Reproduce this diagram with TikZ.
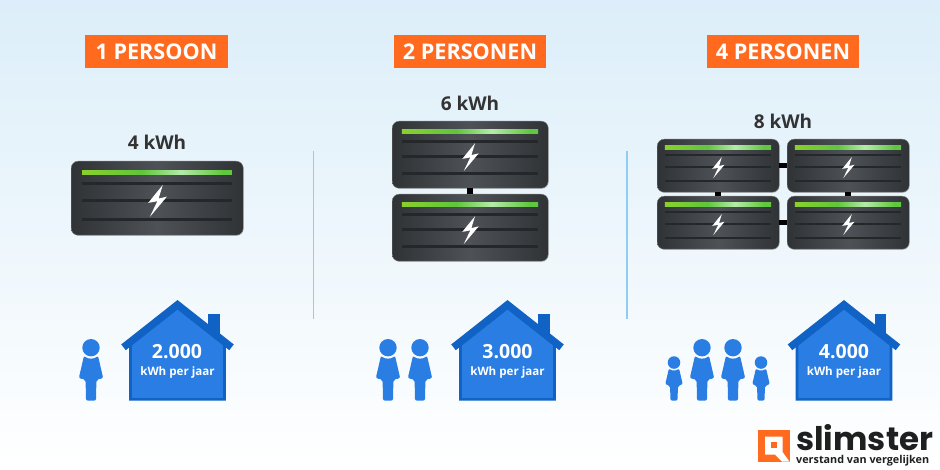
\documentclass[tikz,border=0pt]{standalone}
\usepackage{fontspec}
\setmainfont{Open Sans}
\newfontfamily\logofont{Poppins}
\usetikzlibrary{calc, shadows}

\definecolor{skytop}{HTML}{DCEEF9}
\definecolor{orangebox}{HTML}{FF6A1F}
\definecolor{textdark}{HTML}{333333}
\definecolor{houseblue}{HTML}{2A7DE3}
\definecolor{housedark}{HTML}{1063C4}
\definecolor{sepline}{HTML}{8FCDF2}
\definecolor{batline}{HTML}{25282B}
\definecolor{batedge}{HTML}{303336}
\definecolor{batmid}{HTML}{4E5155}
\definecolor{barleft}{HTML}{8AD02C}
\definecolor{barmain}{HTML}{5FC63C}
\definecolor{barglow}{HTML}{B5EBA8}
\definecolor{barright}{HTML}{6FE070}

\pgfdeclarehorizontalshading{batshade}{100bp}{color(0bp)=(batedge); color(25bp)=(batedge); color(50bp)=(batmid); color(75bp)=(batedge); color(100bp)=(batedge)}
\pgfdeclarehorizontalshading{barshade}{100bp}{color(0bp)=(barleft); color(25bp)=(barleft); color(45bp)=(barmain); color(58bp)=(barglow); color(72bp)=(barmain); color(100bp)=(barright)}

\tikzset{
  title/.style={fill=orangebox, text=white, font=\fontsize{21.6}{24}\bfseries, minimum height=33pt, inner sep=0pt},
  kwh/.style={text=textdark, font=\fontsize{19}{22}\bfseries, inner sep=0pt},
  amount/.style={text=white, font=\fontsize{19.5}{22}\bfseries, inner sep=0pt},
  peryear/.style={text=white, font=\fontsize{11.6}{13}\bfseries, inner sep=0pt},
  batterybox/.style={rounded corners=7pt, shading=batshade, draw=black!55, line width=.4pt, inner sep=0pt, drop shadow={shadow xshift=.6pt, shadow yshift=-.8pt, opacity=.25}},
  link/.style={line width=5pt, black},
  pics/person/.style={code={
    \fill[houseblue] (0,-53) circle (8.7);
    \fill[houseblue, rounded corners=2pt] (-7,-45) .. controls (-3,-41.5) and (3,-41.5) .. (7,-45)
      -- (12.2,-22.5) -- (5.4,-21) -- (5,0) -- (-5,0) -- (-5.4,-21) -- (-12.2,-22.5) -- cycle;
  }},
  pics/house/.style={code={
    \fill[housedark] (30.5,-87) rectangle (42,-55);
    \draw[housedark, fill=houseblue, line width=2.6pt] (-47,-1.3) -- (47,-1.3) -- (47,-56) -- (0,-93) -- (-47,-56) -- cycle;
    \draw[housedark, line width=7.3pt, miter limit=10] (-54,-53.4) -- (0,-96) -- (54,-53.4);
  }},
}

% name, left, top, width, height, bolt size
\newcommand{\battery}[6]{
  \node[batterybox, minimum width=#4pt, minimum height=#5pt, anchor=north west] (#1) at (#2,#3) {};
  \begin{scope}[shift={(#2,#3)}, x=#4pt, y=-#5pt]
    \fill[shading=barshade] (.064,.131) rectangle (.936,.189);
    \fill[batline] (.064,.29) rectangle (.936,.33);
    \fill[batline] (.064,.51) rectangle (.936,.55);
    \fill[batline] (.064,.765) rectangle (.936,.805);
  \end{scope}
  \begin{scope}[shift={($(#2,#3)+(.5*#4,.54*#5)$)}, x=#6pt, y=-#6pt]
    \fill[white] (.36,-1) -- (-.55,.12) -- (.02,.02) -- (-.45,1) -- (.62,-.27) -- (.1,-.15) -- cycle;
  \end{scope}
}

\begin{document}
\begin{tikzpicture}[x=1pt, y=-1pt]
  \useasboundingbox (0,0) rectangle (940,470);
  \shade[top color=skytop, bottom color=white] (0,0) rectangle (940,470);

  % titles
  \node[title, minimum width=143pt] (title1) at (156.5,51.5) {1 PERSOON};
  \node[title, minimum width=152pt] (title2) at (470,51.5) {2 PERSONEN};
  \node[title, minimum width=152pt] (title4) at (783,51.5) {4 PERSONEN};

  \node[kwh] (kwh1) at (157,142) {4 kWh};
  \node[kwh] (kwh2) at (470,103) {6 kWh};
  \node[kwh] (kwh4) at (783,121) {8 kWh};

  % separators
  \coordinate (sepa) at (313.5,151);
  \coordinate (sepb) at (313.5,319);
  \coordinate (sepc) at (627,151);
  \coordinate (sepd) at (627,319);
  \draw[sepline, line width=1.2pt] (sepa) -- (sepb);
  \draw[sepline, line width=1.2pt] (sepc) -- (sepd);

  % batteries
  \battery{bat1}{71}{161}{172}{74}{16}
  \battery{bat2a}{392}{121}{156}{67}{14}
  \battery{bat2b}{392}{194}{156}{67}{14}
  \battery{bat4a}{657}{139}{122}{53}{10.5}
  \battery{bat4b}{787}{139}{122}{53}{10.5}
  \battery{bat4c}{657}{196}{122}{53}{10.5}
  \battery{bat4d}{787}{196}{122}{53}{10.5}
  \draw[link, line width=6pt] (bat2a) -- (bat2b);
  \draw[link] (bat4a) -- (bat4b);
  \draw[link] (bat4c) -- (bat4d);
  \draw[link, line width=6pt] (bat4a) -- (bat4c);
  \draw[link, line width=6pt] (bat4b) -- (bat4d);

  % people
  \pic at (91,400.7) {person};
  \pic at (388,400.7) {person};
  \pic at (420,400.7) {person};
  \pic[scale=.72] at (674,400.7) {person};
  \pic at (702,400.7) {person};
  \pic at (733,400.7) {person};
  \pic[scale=.72] at (761,400.7) {person};

  % houses
  \pic at (177.5,400.7) {house};
  \pic at (507.5,400.7) {house};
  \pic at (844,400.7) {house};
  \node[amount] (use1) at (177,352) {2.000};
  \node[peryear] (year1) at (177.5,372) {kWh per jaar};
  \node[amount] (use2) at (507.5,352) {3.000};
  \node[peryear] (year2) at (507.5,372) {kWh per jaar};
  \node[amount] (use4) at (844,352) {4.000};
  \node[peryear] (year4) at (844,372) {kWh per jaar};

  % logo
  \fill[orangebox] (758,430) rectangle (789.5,461.7);
  \fill[white] (765,436.5) -- (782.5,436.5) -- (782.5,452) -- (789.5,461.7) -- (782,461.7) -- (775,454.5) -- (765,454.5) -- cycle;
  \fill[orangebox] (770.7,442.3) rectangle (776.7,448.3);
  \node[anchor=base west, inner sep=0pt, text=black!88, font=\logofont\fontsize{32.5}{36}\bfseries] (logo) at (796,450) {slimster};
  \node[anchor=base west, inner sep=0pt, text=black!88, font=\fontsize{10.8}{13}\bfseries] (slogan) at (796,463) {verstand van vergelijken};
\end{tikzpicture}
\end{document}
